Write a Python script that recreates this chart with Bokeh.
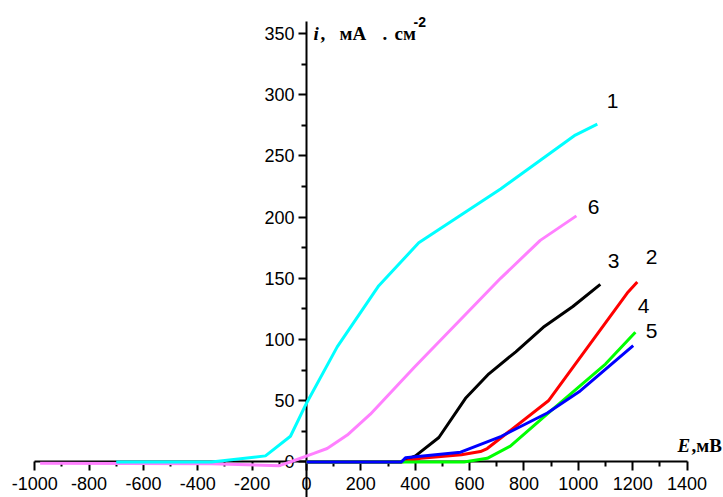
from bokeh.plotting import figure
from bokeh.models import Range1d, LinearAxis, FixedTicker, Label, PrintfTickFormatter
from bokeh.embed import file_html
from bokeh.resources import INLINE

# ---- data (E in mV, i in mA/cm^2) ----
E1 = [-700, -350, -151, -59, 0, 113, 266, 413, 714, 989, 1070]
I1 = [0, 0, 5, 21, 48, 94, 144, 179, 223, 267, 276]

E6 = [-980, -350, -100, -60, 27, 76, 150, 235, 395, 714, 860, 993]
I6 = [-1, -1.5, -3, 0, 7, 11, 22, 39, 77, 150, 181, 201]

E3 = [0, 346, 401, 487, 585, 671, 770, 871, 980, 1081]
I3 = [0, 0, 5, 20, 52, 72, 90, 110, 127, 145]

E2 = [0, 349, 420, 570, 640, 665, 890, 1180, 1217]
I2 = [0, 0, 3, 6, 8.5, 11, 50, 138, 147]

E4 = [0, 349, 580, 665, 750, 900, 1100, 1210]
I4 = [0, 0, 0, 3, 13, 42, 80, 106]

E5 = [0, 349, 364, 567, 717, 886, 1007, 1202]
I5 = [0, 0, 3.4, 8, 21, 40, 58, 95]

curve_names = ["1", "6", "3", "2", "4", "5"]

x_ticks = [-1000, -800, -600, -400, -200, 0, 200, 400, 600, 800, 1000, 1200, 1400]
x_minor = [-900, -700, -500, -300, -100, 100, 300, 500, 700, 900, 1100, 1300]
y_ticks = [0, 50, 100, 150, 200, 250, 300, 350]
y_minor = [25, 75, 125, 175, 225, 275, 325]

# ---- layout ----
W, H = 723, 497
X0, X1 = -1125.8, 1534.2
Y0, Y1 = -29.0, 376.9

def dx(px):
    # page pixel x -> data
    return X0 + px / W * (X1 - X0)

def dy(py):
    return Y1 - py / H * (Y1 - Y0)

p = figure(width=W, height=H, output_backend="svg", toolbar_location=None,
           x_range=Range1d(X0, X1), y_range=Range1d(Y0, Y1),
           x_axis_location=None, y_axis_location=None, min_border=0)
p.outline_line_color = None
p.grid.visible = False

xaxis = LinearAxis(fixed_location=0,
                   ticker=FixedTicker(ticks=x_ticks, minor_ticks=x_minor),
                   formatter=PrintfTickFormatter(format="%d"),
                   bounds=(-1000, 1400))
yaxis = LinearAxis(fixed_location=0,
                   ticker=FixedTicker(ticks=y_ticks, minor_ticks=y_minor),
                   formatter=PrintfTickFormatter(format="%d"),
                   bounds=(-30, 360))
for ax in (xaxis, yaxis):
    ax.axis_line_width = 2
    ax.major_tick_line_width = 2
    ax.minor_tick_line_width = 2
    ax.major_tick_in = 0
    ax.minor_tick_in = 0
    ax.major_label_text_font = "Liberation Sans"
    ax.major_label_text_font_size = "18px"
    ax.major_label_text_color = "black"
    ax.level = "underlay"
xaxis.major_tick_out = 9
xaxis.minor_tick_out = 5
xaxis.major_label_standoff = 6
yaxis.major_tick_out = 8
yaxis.minor_tick_out = 5
yaxis.major_label_standoff = 4
p.add_layout(xaxis, "below")
p.add_layout(yaxis, "left")

series = [(E6, I6, "#FF80FF"), (E1, I1, "#00FFFF"), (E3, I3, "#000000"),
          (E2, I2, "#FF0000"), (E4, I4, "#00FF00"), (E5, I5, "#0000FF")]
for xs, ys, c in series:
    p.line(xs, ys, line_color=c, line_width=3)

# curve number labels (page pixel centres)
label_px = [(612, 100), (593, 206), (613, 260), (651, 256), (643, 305), (651, 330)]
for name, (px, py) in zip(curve_names, label_px):
    p.add_layout(Label(x=dx(px), y=dy(py), text=name, text_align="center",
                       text_baseline="middle", text_font="Liberation Sans",
                       text_font_size="21px", text_color="black"))

def title_piece(txt, px, py, size, style="bold", font="Liberation Serif"):
    p.add_layout(Label(x=dx(px), y=dy(py), text=txt, text_align="left",
                       text_baseline="alphabetic", text_font=font,
                       text_font_size=size, text_font_style=style,
                       text_color="black"))

# y-axis title: i, мА . см^-2
title_piece("i", 313, 33, "19px", "bold italic")
title_piece(",", 320, 33, "19px")
title_piece("мА", 339, 33, "19px")
title_piece(".", 382, 33, "19px")
title_piece("см", 394, 33, "19px")
title_piece("-2", 413, 21, "14px", "bold", "Liberation Sans")

# x-axis title: E,мВ
title_piece("E", 677, 445, "19px", "bold italic")
title_piece(",мВ", 691, 445, "19px")

open("out.html", "w").write(file_html(p, INLINE, "chart"))
